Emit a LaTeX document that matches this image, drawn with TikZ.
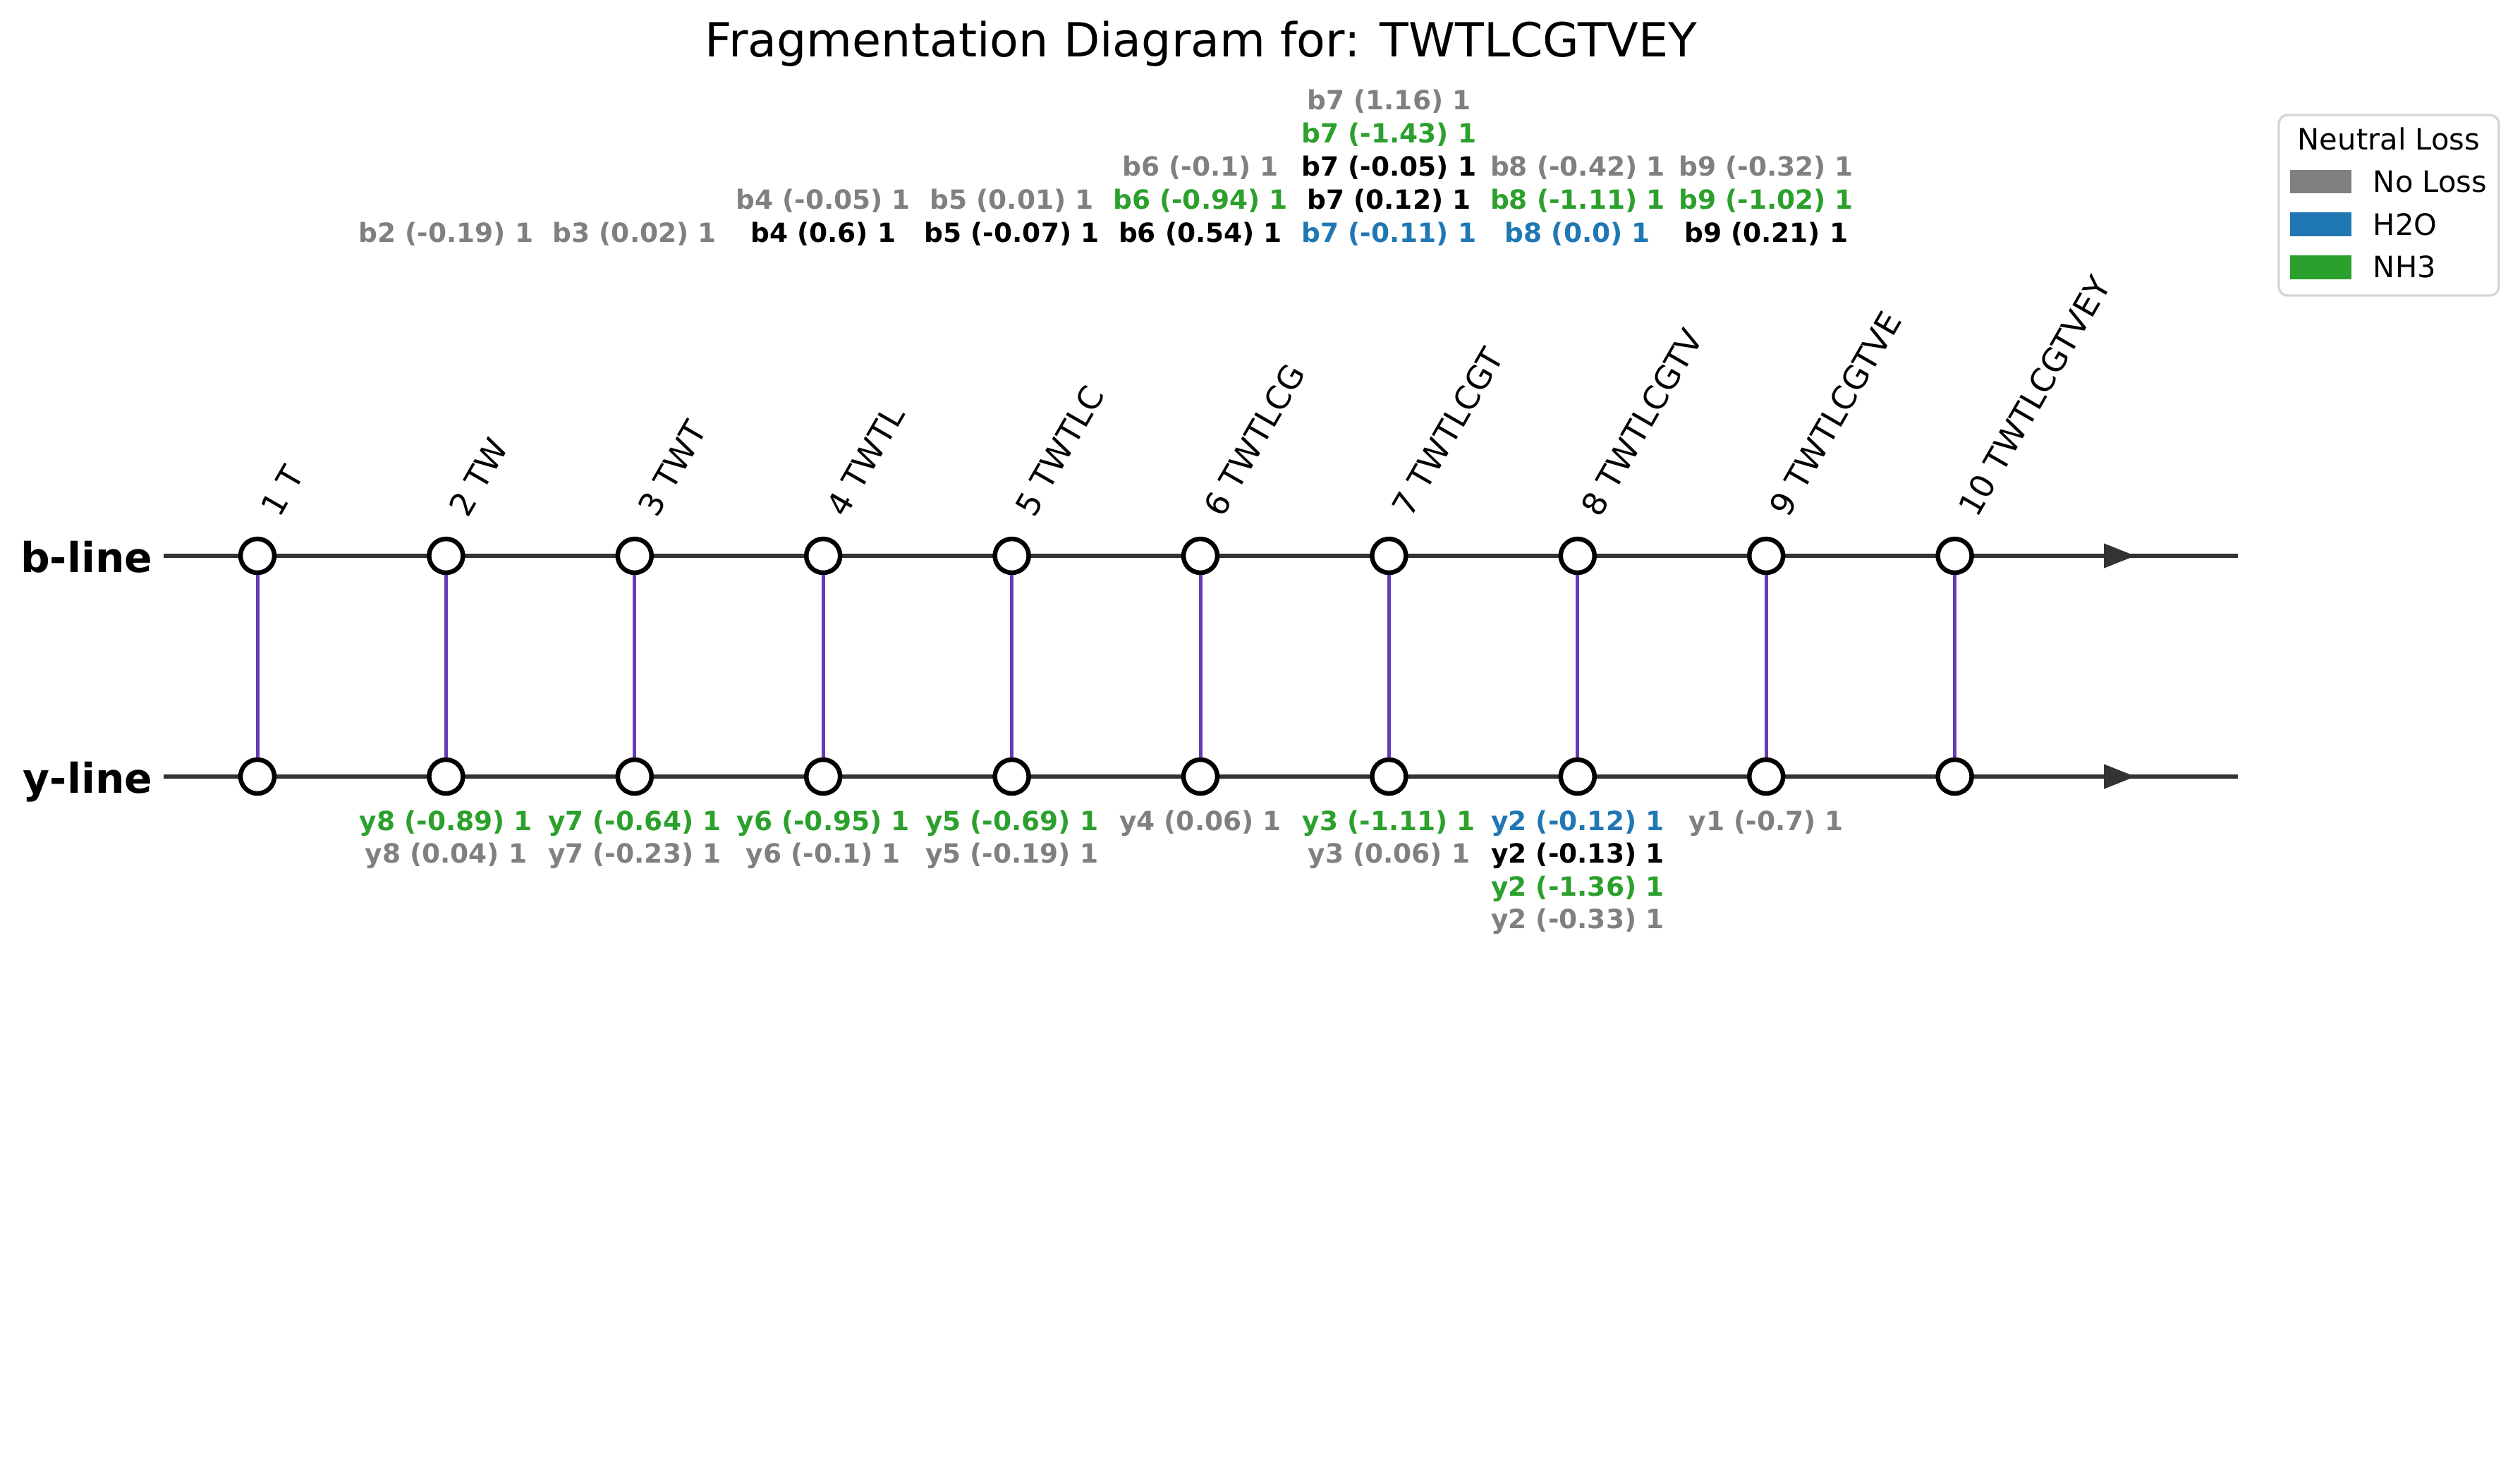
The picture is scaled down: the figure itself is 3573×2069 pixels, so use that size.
\documentclass[tikz,border=0pt]{standalone}
\usepackage{fontspec}
\setmainfont{DejaVu Sans}
\usetikzlibrary{arrows.meta}
\definecolor{nlgray}{HTML}{808080}
\definecolor{nlblue}{HTML}{1F77B4}
\definecolor{nlgreen}{HTML}{2CA02C}
\definecolor{linegray}{HTML}{333333}
\definecolor{rung}{HTML}{673AB7}
\definecolor{legedge}{HTML}{D6D6D6}
\begin{document}
\begin{tikzpicture}[x=0.24pt,y=-0.24pt,
  site/.style={circle, draw=black, fill=white, line width=1.56pt, minimum size=11.52pt, inner sep=0pt},
  hline/.style={draw=linegray, line width=1.44pt},
  rungline/.style={draw=rung, line width=1.2pt},
  tipline/.style={draw=linegray, fill=linegray, line width=1.6pt, -{Triangle[length=10.8pt,width=8pt]}},
  ann/.style={font=\fontsize{9}{10.8}\selectfont\bfseries, inner sep=0pt, anchor=base},
  frag/.style={font=\fontsize{11}{13.2}\selectfont, rotate=60, anchor=base west, inner sep=0pt},
  linelab/.style={font=\fontsize{14}{17}\selectfont\bfseries, anchor=base east, inner sep=0pt},
  legtext/.style={font=\fontsize{10}{12}\selectfont, inner sep=0pt}
]
\useasboundingbox (0,0) rectangle (3573,2069);
\fill[white] (0,0) rectangle (3573,2069);

% title
\node[font=\fontsize{16}{19}\selectfont, anchor=base, inner sep=0pt] (title) at (1703,80) {Fragmentation Diagram for: TWTLCGTVEY};

% line labels
\node[linelab] (blab) at (217,811) {b-line};
\node[linelab] (ylab) at (217,1124) {y-line};

% horizontal lines
\coordinate (bstart) at (232,788);
\coordinate (bend) at (3173,788);
\coordinate (ystart) at (232,1101);
\coordinate (yend) at (3173,1101);
\draw[hline] (bstart) -- (bend);
\draw[hline] (ystart) -- (yend);
\coordinate (barrS) at (2903,788);
\coordinate (barrE) at (3028,788);
\coordinate (yarrS) at (2903,1101);
\coordinate (yarrE) at (3028,1101);
\draw[tipline] (barrS) -- (barrE);
\draw[tipline] (yarrS) -- (yarrE);

% sites
\foreach \i in {1,...,10} {
  \node[site] (b\i) at ({365+(\i-1)*267.4},788) {};
  \node[site] (y\i) at ({365+(\i-1)*267.4},1101) {};
  \draw[rungline] (b\i) -- (y\i);
}

% rotated fragment labels
\foreach \i/\s in {1/T,2/TW,3/TWT,4/TWTL,5/TWTLC,6/TWTLCG,7/TWTLCGT,8/TWTLCGTV,9/TWTLCGTVE,10/TWTLCGTVEY} {
  \node[frag] (f\i) at ({365+(\i-1)*267.4+31},736) {\i\ \s};
}

% b annotations (row 1 = closest to the line)
\foreach \n/\r/\c/\t in {
  2/1/nlgray/b2 (-0.19) 1,
  3/1/nlgray/b3 (0.02) 1,
  4/1/black/b4 (0.6) 1,
  4/2/nlgray/b4 (-0.05) 1,
  5/1/black/b5 (-0.07) 1,
  5/2/nlgray/b5 (0.01) 1,
  6/1/black/b6 (0.54) 1,
  6/2/nlgreen/b6 (-0.94) 1,
  6/3/nlgray/b6 (-0.1) 1,
  7/1/nlblue/b7 (-0.11) 1,
  7/2/black/b7 (0.12) 1,
  7/3/black/b7 (-0.05) 1,
  7/4/nlgreen/b7 (-1.43) 1,
  7/5/nlgray/b7 (1.16) 1,
  8/1/nlblue/b8 (0.0) 1,
  8/2/nlgreen/b8 (-1.11) 1,
  8/3/nlgray/b8 (-0.42) 1,
  9/1/black/b9 (0.21) 1,
  9/2/nlgreen/b9 (-1.02) 1,
  9/3/nlgray/b9 (-0.32) 1} {
  \node[ann, text=\c] (ba\n\r) at ({365+(\n-1)*267.4},{343-(\r-1)*47}) {\t};
}

% y annotations
\foreach \n/\r/\c/\t in {
  2/1/nlgreen/y8 (-0.89) 1,
  2/2/nlgray/y8 (0.04) 1,
  3/1/nlgreen/y7 (-0.64) 1,
  3/2/nlgray/y7 (-0.23) 1,
  4/1/nlgreen/y6 (-0.95) 1,
  4/2/nlgray/y6 (-0.1) 1,
  5/1/nlgreen/y5 (-0.69) 1,
  5/2/nlgray/y5 (-0.19) 1,
  6/1/nlgray/y4 (0.06) 1,
  7/1/nlgreen/y3 (-1.11) 1,
  7/2/nlgray/y3 (0.06) 1,
  8/1/nlblue/y2 (-0.12) 1,
  8/2/black/y2 (-0.13) 1,
  8/3/nlgreen/y2 (-1.36) 1,
  8/4/nlgray/y2 (-0.33) 1,
  9/1/nlgray/y1 (-0.7) 1} {
  \node[ann, text=\c] (ya\n\r) at ({365+(\n-1)*267.4},{1177+(\r-1)*46.5}) {\t};
}

% legend
\draw[legedge, line width=0.8pt, rounded corners=3pt, fill=white] (3231,163) rectangle (3543,419);
\node[legtext, anchor=base] (legtitle) at (3387,212) {Neutral Loss};
\fill[nlgray] (3247,241) rectangle (3334,274);
\fill[nlblue] (3247,301) rectangle (3334,335);
\fill[nlgreen] (3247,362) rectangle (3334,396);
\node[legtext, anchor=base west] (leg1) at (3364,272) {No Loss};
\node[legtext, anchor=base west] (leg2) at (3364,333) {H2O};
\node[legtext, anchor=base west] (leg3) at (3364,393) {NH3};
\end{tikzpicture}
\end{document}
